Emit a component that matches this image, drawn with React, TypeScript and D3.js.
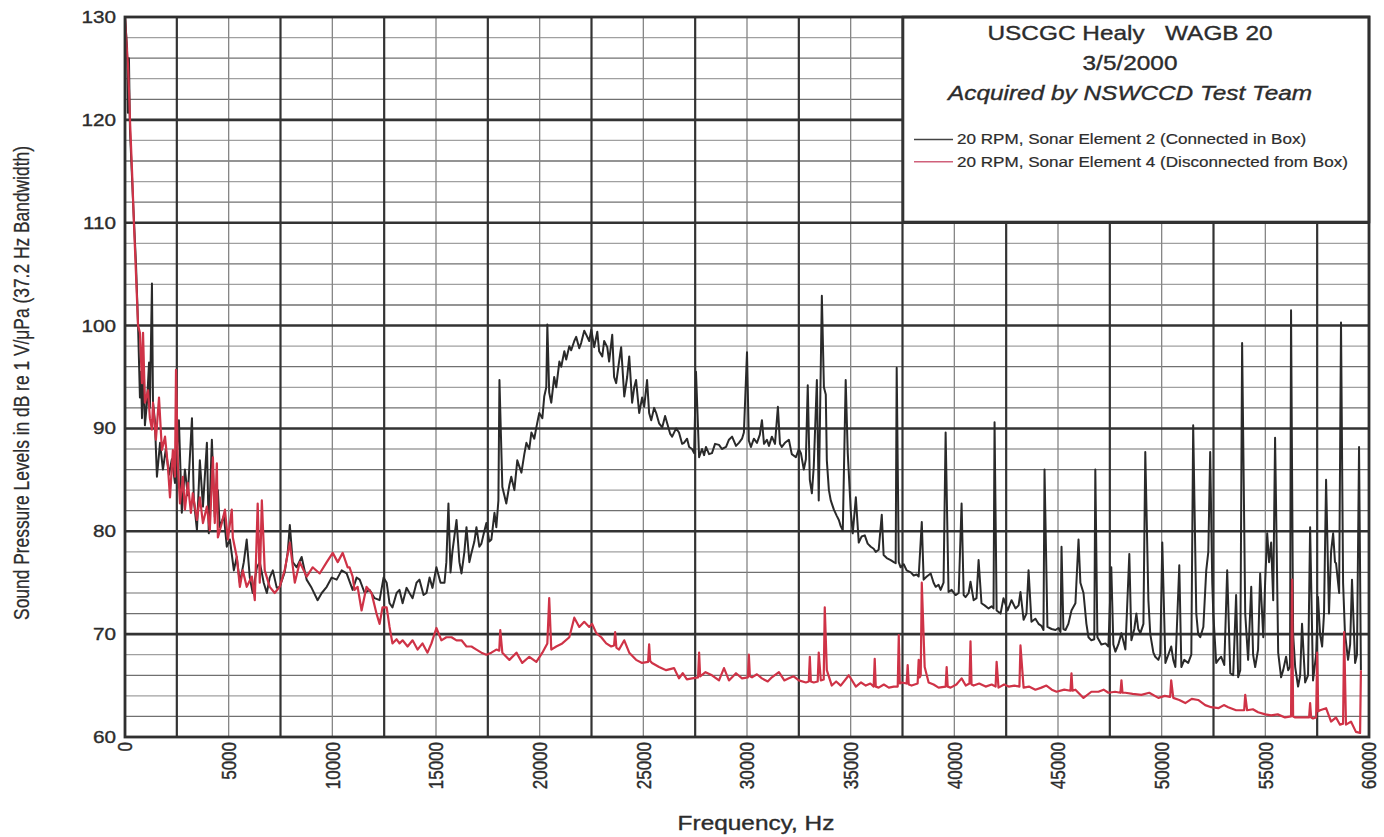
import React, { useEffect, useRef } from "react";
import * as d3 from "d3";

// values
const freqTicks = [0, 5000, 10000, 15000, 20000, 25000, 30000, 35000, 40000, 45000, 50000, 55000, 60000];
const levelTicks = [60, 70, 80, 90, 100, 110, 120, 130];
const titleLines = ["USCGC Healy   WAGB 20", "3/5/2000"];
const teamLine = "Acquired by NSWCCD Test Team";
const seriesNames = [
  "20 RPM, Sonar Element 2 (Connected in Box)",
  "20 RPM, Sonar Element 4 (Disconnected from Box)",
];
const seriesColors = ["#2a2a2a", "#cf3347"];
const xTitle = "Frequency, Hz";
const yTitle = "Sound Pressure Levels in dB re 1 V/\u03bcPa (37.2 Hz Bandwidth)";

// [frequency Hz, level dB]
const element2: [number, number][] = [
  [0, 130], [100, 127], [140, 120.7], [190, 126], [240, 119], [390, 112], [530, 106], [630, 100], [720, 93],
  [770, 95.5], [820, 91], [910, 95.7], [960, 90.3], [1060, 92.5], [1160, 96.4], [1200, 92], [1300, 104.1],
  [1350, 92.5], [1440, 90.8], [1540, 85.3], [1690, 88.6], [1830, 86], [1970, 88], [2120, 85.5], [2260, 87],
  [2410, 84.7], [2600, 90.8], [2740, 81.8], [2890, 86], [3030, 83.5], [3230, 91], [3320, 83], [3470, 80.1],
  [3610, 86.9], [3760, 82.4], [3950, 88.6], [4040, 79.8], [4190, 88.9], [4330, 81.4], [4480, 84], [4570, 80.4],
  [4770, 81.5], [4910, 78.5], [5060, 79.2], [5250, 76.2], [5390, 77.5], [5540, 75], [5730, 77], [5870, 79.2],
  [6020, 75.5], [6160, 74], [6360, 76.5], [6500, 77], [6690, 75], [6840, 74], [6980, 75.5], [7130, 76.2],
  [7320, 74.5], [7460, 74.6], [7700, 76], [7850, 78], [7950, 80.6], [8090, 77], [8280, 76.5], [8520, 77.5],
  [8760, 75.3], [9000, 74.5], [9290, 73.3], [9490, 74], [9730, 74.6], [9970, 75.5], [10210, 75.3], [10450, 76.2],
  [10690, 75.9], [10980, 74.3], [11170, 75.5], [11320, 75.3], [11560, 74], [11800, 74.3], [12040, 73.5],
  [12280, 73.3], [12470, 75.5], [12620, 75], [12760, 73], [12900, 72.6], [13100, 74], [13240, 74.3], [13390, 73],
  [13580, 74.5], [13720, 74], [13870, 73.5], [14060, 75], [14200, 75.3], [14400, 73.8], [14540, 74], [14690, 75.5],
  [14830, 74.5], [15020, 76.5], [15220, 75], [15410, 75], [15500, 77], [15600, 82.7], [15700, 76], [15790, 78],
  [15990, 81.1], [16130, 77], [16230, 75.9], [16370, 78], [16470, 80.4], [16610, 77], [16710, 77.9], [16850, 79],
  [16950, 80.4], [17090, 78.5], [17190, 78.8], [17330, 80], [17430, 80.8], [17570, 79], [17670, 79.2],
  [17820, 81.8], [17910, 80.4], [18010, 83], [18060, 94.7], [18200, 84.3], [18390, 82.7], [18540, 84.5],
  [18630, 85.3], [18780, 84], [18920, 86.9], [19120, 85.7], [19260, 87.5], [19360, 88.6], [19500, 88],
  [19600, 89.6], [19740, 89], [19840, 90.1], [19980, 91.5], [20130, 91], [20220, 93.1], [20320, 94],
  [20370, 100.1], [20460, 93.5], [20560, 92.5], [20700, 95], [20800, 94], [20950, 96.5], [21040, 96],
  [21190, 97.5], [21280, 96.7], [21430, 98], [21520, 97.6], [21670, 98.5], [21760, 98.9], [21910, 97.8],
  [22000, 98.3], [22150, 99.5], [22250, 99.1], [22390, 98.5], [22490, 99.6], [22630, 97.9], [22780, 99.4],
  [22870, 97.5], [23020, 97], [23110, 98.5], [23260, 97.9], [23350, 96.5], [23500, 99.1], [23590, 95],
  [23690, 94.4], [23830, 96.5], [23930, 97.9], [24080, 93.1], [24220, 95], [24320, 97], [24460, 92.5],
  [24560, 94], [24650, 94.7], [24800, 91.5], [24940, 93], [25040, 92.1], [25180, 94.7], [25280, 91.5],
  [25380, 90.8], [25520, 92], [25620, 91.5], [25760, 90.5], [25910, 90.1], [26050, 91.2], [26150, 90.5],
  [26290, 89.5], [26390, 89.2], [26580, 90], [26720, 89.6], [26870, 88.5], [26960, 88.6], [27110, 89],
  [27210, 88.2], [27350, 88], [27450, 87.6], [27540, 95.5], [27690, 87.2], [27830, 88], [27930, 87.4],
  [28020, 88.2], [28170, 87.5], [28310, 87.6], [28460, 88.5], [28650, 88.4], [28790, 88], [28990, 88.2],
  [29130, 88.9], [29280, 89.2], [29470, 88.3], [29610, 88.6], [29760, 89], [29850, 89.6], [30000, 97.4],
  [30090, 88.8], [30190, 88.2], [30330, 89], [30480, 88.6], [30620, 89.4], [30720, 90.8], [30820, 88.5],
  [30960, 88.9], [31060, 88.3], [31200, 89.2], [31350, 88.5], [31490, 92.1], [31590, 88.5], [31680, 88.2],
  [31830, 88.6], [32020, 88.9], [32160, 87.5], [32360, 87.2], [32500, 88], [32600, 87.6], [32740, 86],
  [32840, 87], [32930, 94.2], [33030, 85], [33130, 83.7], [33220, 86.3], [33370, 94.7], [33460, 83],
  [33610, 102.9], [33710, 94], [33800, 93.3], [33850, 86.9], [33950, 84], [34040, 83], [34190, 82.1],
  [34330, 81.5], [34430, 81.1], [34520, 80.5], [34620, 80.1], [34760, 94.7], [34860, 87.6], [35010, 81.8],
  [35100, 79.8], [35250, 83.3], [35390, 78.9], [35530, 79.5], [35680, 79.6], [35820, 78.8], [35970, 78.5],
  [36110, 78.3], [36210, 78], [36350, 78.2], [36500, 81.6], [36590, 77.7], [36740, 77.4], [36930, 77.2],
  [37080, 77], [37170, 76.9], [37220, 95.9], [37320, 77], [37410, 76.5], [37560, 76.8], [37700, 76.2],
  [37900, 76], [38040, 75.7], [38180, 75.8], [38280, 75.6], [38430, 80.9], [38520, 75.3], [38670, 75.6],
  [38860, 75.9], [39000, 75], [39100, 74.6], [39240, 74.8], [39340, 74.3], [39480, 75], [39580, 89.6],
  [39720, 74.1], [39870, 74.3], [40060, 73.8], [40210, 74], [40350, 82.7], [40450, 73.8], [40540, 73.6],
  [40690, 74], [40780, 75.1], [40930, 73.3], [41070, 73.5], [41170, 77.2], [41310, 73], [41460, 72.8],
  [41650, 72.5], [41800, 72.7], [41890, 72.5], [41940, 90.6], [42040, 72.3], [42230, 72], [42370, 73.5],
  [42570, 72.3], [42760, 73.3], [42950, 72.5], [43100, 72.8], [43190, 74.1], [43340, 71.4], [43480, 72],
  [43580, 76.2], [43720, 71.2], [43910, 71.5], [44060, 71], [44200, 70.8], [44300, 70.4], [44350, 86],
  [44490, 70.7], [44690, 70.5], [44880, 70.4], [45020, 70.6], [45120, 70.2], [45170, 78.5], [45260, 70.5],
  [45360, 70.4], [45500, 71], [45650, 72.3], [45840, 73], [45990, 79.2], [46080, 75], [46230, 74], [46370, 71],
  [46470, 69.7], [46610, 69.4], [46750, 69.5], [46800, 86], [46900, 69.7], [47090, 69], [47290, 69.1],
  [47430, 68.8], [47570, 76.5], [47670, 69], [47770, 68.3], [47910, 69], [48060, 70.1], [48250, 68.5],
  [48440, 77.8], [48540, 69.4], [48680, 70.5], [48780, 72], [48870, 70.5], [48970, 70.1], [49120, 71],
  [49210, 87.7], [49360, 73.3], [49450, 70], [49600, 68.2], [49690, 67.8], [49840, 67.5], [49930, 68],
  [50030, 78.9], [50180, 67.2], [50320, 68], [50460, 68.8], [50560, 67.5], [50660, 66.8], [50850, 76.7],
  [50950, 66.8], [51090, 67.5], [51280, 67.2], [51430, 68], [51520, 90.3], [51670, 72], [51760, 70],
  [51860, 69.7], [52010, 70.7], [52150, 76.2], [52250, 78], [52340, 87.7], [52440, 75], [52490, 72],
  [52630, 67.2], [52730, 67.5], [52870, 67.8], [53020, 67], [53160, 76.2], [53310, 66.2], [53450, 66],
  [53590, 73.8], [53690, 65.8], [53790, 66.5], [53880, 98.3], [54030, 72], [54170, 67.5], [54320, 74.6],
  [54410, 68], [54510, 66.8], [54650, 68.5], [54750, 75.9], [54900, 69.7], [54990, 75], [55090, 79.8],
  [55180, 77], [55280, 78.9], [55380, 73.3], [55470, 89.1], [55620, 68.2], [55760, 65.8], [55860, 66.5],
  [56000, 67.8], [56100, 66.5], [56190, 66.8], [56240, 101.5], [56340, 70], [56440, 66.8], [56580, 64.9],
  [56680, 66], [56770, 71], [56920, 65.3], [57060, 66], [57160, 80.4], [57300, 65.5], [57450, 68],
  [57540, 73.6], [57640, 70], [57740, 68.8], [57830, 72], [57930, 85], [58070, 72], [58170, 78], [58270, 79.8],
  [58360, 77], [58410, 76.9], [58560, 74], [58650, 100.3], [58750, 75], [58840, 70.1], [58990, 67.5],
  [59090, 69], [59180, 75.3], [59330, 67.2], [59420, 68], [59520, 88.2], [59610, 66.5],
];

const element4: [number, number][] = [
  [0, 130], [100, 126.5], [140, 125.5], [190, 123], [240, 120], [340, 115], [430, 110], [530, 105], [630, 100],
  [720, 99.3], [820, 94.4], [870, 99.3], [960, 92.5], [1110, 93.7], [1200, 91], [1300, 89.9], [1350, 92.5],
  [1490, 88.9], [1640, 93], [1780, 87.9], [1930, 89.2], [2070, 86.3], [2170, 83.3], [2310, 87.9], [2410, 85.3],
  [2460, 95.7], [2550, 86.6], [2650, 82.7], [2790, 85.3], [2890, 82.1], [3030, 84.7], [3180, 81.8], [3270, 83.7],
  [3470, 81.1], [3610, 83.3], [3760, 80.8], [3950, 82.4], [4090, 80.1], [4240, 87.2], [4330, 80.8], [4430, 86.6],
  [4480, 79.4], [4670, 80.8], [4820, 82.1], [4960, 79.2], [5150, 82.1], [5200, 79.4], [5390, 77.5], [5540, 74.6],
  [5680, 76.2], [5870, 74.6], [6120, 75.6], [6260, 73.3], [6400, 82.7], [6500, 75], [6600, 83], [6740, 76.2],
  [6980, 74.6], [7220, 74], [7460, 74.6], [7700, 76.2], [7950, 78.9], [8190, 75], [8430, 77], [8760, 75.6],
  [9050, 76.5], [9390, 75.9], [9730, 77], [10020, 77.9], [10260, 77], [10500, 77.9], [10740, 76.5], [10830, 76.5],
  [10980, 75.6], [11070, 74.3], [11220, 74.6], [11410, 72.3], [11650, 74.6], [11890, 74], [12130, 72], [12280, 71],
  [12420, 72.6], [12620, 72.6], [12760, 70.7], [12900, 69.1], [13100, 69.5], [13240, 69.1], [13390, 69.4],
  [13630, 68.8], [13870, 69.4], [14110, 68.5], [14350, 69.1], [14590, 68.2], [14780, 69.1], [15020, 70.6],
  [15260, 69.4], [15500, 69.7], [15750, 69.7], [15990, 69.4], [16230, 69.4], [16470, 68.8], [16710, 68.8],
  [16950, 68.5], [17190, 68.2], [17430, 68], [17670, 68.2], [17910, 68.5], [18050, 68.4], [18100, 70.4],
  [18200, 68.2], [18540, 67.5], [18880, 68.2], [19160, 67.2], [19500, 67.8], [19840, 67.3], [20130, 68.2],
  [20370, 69.1], [20460, 73.5], [20560, 68.5], [20800, 68.8], [21090, 69.1], [21430, 69.7], [21670, 71.6],
  [21910, 70.7], [22150, 71.2], [22390, 70.7], [22530, 71], [22730, 70.1], [22970, 69.7], [23210, 69.1],
  [23450, 68.8], [23590, 68.9], [23640, 70.2], [23700, 68.7], [23830, 68.5], [24080, 69.4], [24320, 68.2],
  [24650, 67.5], [24940, 67.2], [25230, 67.3], [25280, 69], [25330, 67.4], [25420, 67.2], [25760, 66.8],
  [26100, 66.5], [26480, 66.7], [26720, 65.7], [26900, 66.2], [27100, 65.6], [27350, 65.7], [27640, 65.8],
  [27690, 68.2], [27740, 65.9], [28000, 66.3], [28310, 66], [28650, 65.5], [28890, 66.7], [29130, 65.5],
  [29470, 66.2], [29760, 65.7], [30040, 65.8], [30090, 68], [30140, 65.9], [30240, 65.8], [30480, 66.1],
  [30720, 65.7], [31000, 65.4], [31200, 65.8], [31540, 66.3], [31800, 65.5], [32020, 65.7], [32250, 65.9],
  [32500, 65.5], [32840, 65.3], [32980, 65.4], [33030, 67.8], [33080, 65.4], [33220, 65.3], [33410, 65.4],
  [33460, 68.2], [33560, 65.5], [33700, 65.6], [33750, 72.6], [33850, 66.5], [34090, 65], [34300, 65.4],
  [34520, 65], [34910, 66], [35250, 64.9], [35500, 65.3], [35730, 65], [35950, 65.2], [36110, 64.9],
  [36160, 67.6], [36210, 64.9], [36350, 64.8], [36600, 65.1], [36840, 64.8], [37080, 64.9], [37270, 64.9],
  [37320, 69.9], [37370, 65.2], [37460, 65.3], [37700, 65.2], [37750, 67], [37800, 65.1], [37940, 65],
  [38230, 65.2], [38280, 67.5], [38330, 65.8], [38380, 66], [38430, 75], [38570, 66.8], [38760, 65.3],
  [39000, 65.1], [39240, 64.8], [39580, 64.9], [39630, 66.8], [39680, 64.9], [39820, 64.8], [40100, 65.1],
  [40350, 65.7], [40550, 65], [40730, 65.2], [40780, 69.3], [40830, 65.1], [40930, 65], [41200, 65.2],
  [41510, 64.9], [41800, 65.1], [41990, 64.9], [42040, 67.3], [42130, 64.8], [42400, 65.1], [42620, 64.9],
  [42900, 65], [43140, 64.9], [43190, 68.9], [43340, 64.8], [43600, 64.9], [43910, 64.6], [44200, 64.8],
  [44440, 65], [44700, 64.6], [44930, 64.4], [45300, 64.6], [45600, 64.5], [45650, 66.2], [45700, 64.5],
  [45840, 64.6], [46230, 63.8], [46610, 64.4], [46950, 64.4], [47200, 64.6], [47430, 64.3], [47750, 64.4],
  [48010, 64.3], [48060, 65.5], [48110, 64.3], [48250, 64.3], [48600, 64.2], [49020, 64.1], [49400, 64.3],
  [49840, 63.8], [50150, 64], [50410, 63.9], [50460, 65.5], [50560, 63.8], [50850, 63.6], [51140, 63.3],
  [51450, 63.7], [51760, 63.6], [52100, 63.1], [52390, 62.9], [52730, 62.8], [53000, 63.1], [53210, 62.9],
  [53590, 62.6], [53980, 62.6], [54030, 64.1], [54120, 62.6], [54400, 62.7], [54650, 62.4], [55000, 62.2],
  [55280, 62.1], [55600, 62.2], [55950, 61.9], [56240, 62], [56290, 75.3], [56340, 62], [56440, 61.9],
  [56730, 61.9], [57110, 61.9], [57160, 63.3], [57210, 61.9], [57300, 61.8], [57450, 61.9], [57500, 68.2],
  [57550, 62.5], [57640, 62.6], [57930, 62.8], [58170, 61.5], [58410, 61.9], [58600, 61.2], [58750, 61.3],
  [58800, 70.2], [58890, 61.2], [59130, 61.5], [59370, 60.5], [59570, 60.4], [59610, 66.5],
];

const W = 1384;
const H = 837;
const plotLeft = 125;
const plotRight = 1369;
const plotTop = 17;
const plotBottom = 737;
const SX = 1.22; // the scanned sheet is stretched sideways, text too
const FONT = "'Liberation Sans', Arial, sans-serif";
const INK = "#2c2c2c";

const App = () => {
  const svgRef = useRef<SVGSVGElement | null>(null);

  const drawChart = () => {
    const svg = d3.select(svgRef.current);
    svg.selectAll("*").remove();

    const x = d3.scaleLinear().domain([0, 60000]).range([plotLeft, plotRight]);
    const y = d3.scaleLinear().domain([60, 130]).range([plotBottom, plotTop]);

    svg.append("rect").attr("width", W).attr("height", H).attr("fill", "#fff");

    // grid: 2 dB rules, 2500 Hz rules, then the 10 dB rules on top
    const grid = svg.append("g");
    const minorLevels = d3.range(62, 130, 2).filter((v) => v % 10 !== 0);
    grid.selectAll(".minor-level").data(minorLevels).enter().append("line")
      .attr("x1", plotLeft).attr("x2", plotRight)
      .attr("y1", (d) => y(d)).attr("y2", (d) => y(d))
      .attr("stroke", (d, i) => (i % 2 ? "#a0a0a0" : "#707070"))
      .attr("stroke-width", 1.3);

    const freqLines = d3.range(2500, 60000, 2500);
    grid.selectAll(".freq-line").data(freqLines).enter().append("line")
      .attr("x1", (d) => x(d)).attr("x2", (d) => x(d))
      .attr("y1", plotTop).attr("y2", plotBottom)
      .attr("stroke", (d) => (d % 5000 === 0 ? "#858585" : "#333"))
      .attr("stroke-width", (d) => (d % 5000 === 0 ? 1.3 : 2.2));

    grid.selectAll(".major-level").data(levelTicks.slice(1, -1)).enter().append("line")
      .attr("x1", plotLeft).attr("x2", plotRight)
      .attr("y1", (d) => y(d)).attr("y2", (d) => y(d))
      .attr("stroke", "#333").attr("stroke-width", 2.6);

    // traces
    svg.append("clipPath").attr("id", "plot-clip").append("rect")
      .attr("x", plotLeft).attr("y", plotTop)
      .attr("width", plotRight - plotLeft).attr("height", plotBottom - plotTop);

    const line = d3.line<[number, number]>().x((d) => x(d[0])).y((d) => y(d[1]));

    [element2, element4].forEach((series, i) => {
      svg.append("path")
        .datum(series)
        .attr("d", line)
        .attr("fill", "none")
        .attr("stroke", seriesColors[i])
        .attr("stroke-width", i === 0 ? 2 : 2.2)
        .attr("stroke-linejoin", "round")
        .attr("clip-path", "url(#plot-clip)");
    });

    // legend / title box in the top right corner
    const box = svg.append("g").attr("font-family", FONT).attr("fill", INK);
    box.append("rect")
      .attr("x", 903).attr("y", plotTop)
      .attr("width", plotRight - 903).attr("height", 222 - plotTop)
      .attr("fill", "#fff").attr("stroke", "#333").attr("stroke-width", 2.6);

    const cx = 1130;
    const heading = box.append("g").attr("stroke", INK).attr("stroke-width", 0.35);
    heading.append("text")
      .attr("transform", `translate(${cx},40) scale(${SX},1)`)
      .attr("text-anchor", "middle").attr("font-size", 20)
      .style("white-space", "pre")
      .text(titleLines[0]);
    heading.append("text")
      .attr("transform", `translate(${cx},70) scale(${SX},1)`)
      .attr("text-anchor", "middle").attr("font-size", 20)
      .text(titleLines[1]);
    heading.append("text")
      .attr("transform", `translate(${cx},100) scale(${SX},1)`)
      .attr("text-anchor", "middle").attr("font-size", 20)
      .attr("font-style", "italic")
      .text(teamLine);

    seriesNames.forEach((name, i) => {
      const ly = 139.5 + i * 22.3;
      box.append("line")
        .attr("x1", 914).attr("x2", 953).attr("y1", ly).attr("y2", ly)
        .attr("stroke", i === 0 ? "#444" : "#d0607a").attr("stroke-width", 1.5);
      box.append("text")
        .attr("transform", `translate(957,${ly + 4.8}) scale(${SX},1)`)
        .attr("font-size", 14)
        .attr("stroke", INK).attr("stroke-width", 0.2)
        .text(name);
    });

    // frame
    svg.append("rect")
      .attr("x", plotLeft).attr("y", plotTop)
      .attr("width", plotRight - plotLeft).attr("height", plotBottom - plotTop)
      .attr("fill", "none").attr("stroke", "#2f2f2f").attr("stroke-width", 2.8);

    // axes labels
    const labels = svg.append("g")
      .attr("font-family", FONT).attr("fill", INK)
      .attr("stroke", INK).attr("stroke-width", 0.35);

    labels.selectAll(".level-label").data(levelTicks).enter().append("text")
      .attr("transform", (d) => `translate(116,${y(d) + 6}) scale(${SX},1)`)
      .attr("text-anchor", "end").attr("font-size", 17)
      .text((d) => d);

    labels.selectAll(".freq-label").data(freqTicks).enter().append("text")
      .attr("transform", (d) => `translate(${x(d)},742) scale(${SX},1) rotate(-90)`)
      .attr("text-anchor", "end").attr("dy", "0.35em").attr("font-size", 17)
      .text((d) => d);

    labels.append("text")
      .attr("transform", `translate(22,383) scale(${SX},1) rotate(-90)`)
      .attr("text-anchor", "middle").attr("dy", "0.35em").attr("font-size", 17.4)
      .attr("stroke-width", 0.2)
      .text(yTitle);

    labels.append("text")
      .attr("transform", `translate(756,830) scale(${SX},1)`)
      .attr("text-anchor", "middle").attr("font-size", 20)
      .text(xTitle);
  };

  useEffect(() => {
    if (svgRef.current) drawChart();
  }, []);

  return (
    <div style={{ position: "absolute", left: 0, top: 0 }}>
      <svg ref={svgRef} width={W} height={H} style={{ display: "block" }} />
    </div>
  );
};

export default App;
